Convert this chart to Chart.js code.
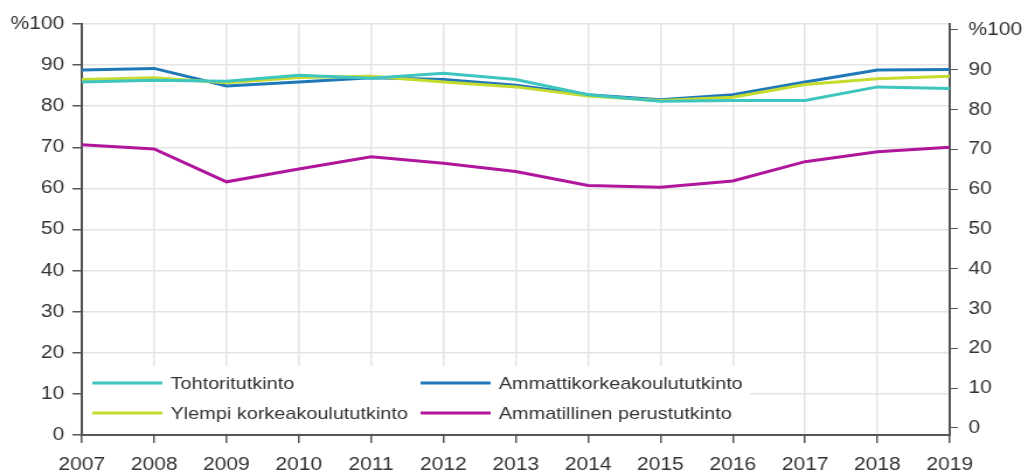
<!DOCTYPE html>
<html>
<head>
<meta charset="utf-8">
<script src="https://cdn.jsdelivr.net/npm/chart.js@4/dist/chart.umd.min.js"></script>
<style>
  body { margin: 0; background: #fff; }
</style>
</head>
<body>
<!-- chart is drawn a bit narrower and stretched, like the original picture -->
<canvas id="chart" width="880" height="473" style="display:block;width:1028px;height:473px"></canvas>
<script>
const years = ['2007', '2008', '2009', '2010', '2011', '2012', '2013', '2014', '2015', '2016', '2017', '2018', '2019'];
const tohtori = [85.9, 86.3, 86.1, 87.5, 86.8, 88.0, 86.5, 82.8, 81.2, 81.4, 81.4, 84.7, 84.3];
const ylempi = [86.5, 86.9, 85.7, 87.0, 87.3, 85.9, 84.7, 82.5, 81.4, 82.2, 85.3, 86.7, 87.3];
const amk = [88.8, 89.2, 84.9, 85.9, 86.9, 86.5, 85.1, 82.8, 81.6, 82.8, 85.9, 88.8, 88.9];
const ammatillinen = [70.6, 69.6, 61.6, 64.7, 67.7, 66.1, 64.1, 60.7, 60.3, 61.8, 66.5, 68.9, 70.0];
const seriesNames = ['Tohtoritutkinto', 'Ylempi korkeakoulututkinto', 'Ammattikorkeakoulututkinto', 'Ammatillinen perustutkinto'];

const textColor = '#333';
const axisColor = '#555';
const gridColor = '#e4e4e4';
const font = { family: "'Liberation Sans', Arial, sans-serif", size: 18 };

function tickLabel(v) {
    return v === 100 ? '%100' : v;
}

// legend drawn inside the plot, two columns, white box behind it
const legendInside = {
    id: 'legendInside',
    afterDraw(chart) {
        const ctx = chart.ctx;
        ctx.save();
        ctx.fillStyle = '#fff';
        ctx.fillRect(71, 366, 571, 67);
        const cols = [[79, 139, 146], [360, 420, 427]];
        const rows = [383, 413];
        ctx.font = "17px 'Liberation Sans', Arial, sans-serif";
        ctx.textBaseline = 'middle';
        chart.data.datasets.forEach((ds, i) => {
            const c = cols[Math.floor(i / 2)];
            const y = rows[i % 2];
            ctx.strokeStyle = ds.borderColor;
            ctx.lineWidth = 3;
            ctx.beginPath();
            ctx.moveTo(c[0], y);
            ctx.lineTo(c[1], y);
            ctx.stroke();
            ctx.fillStyle = textColor;
            ctx.fillText(ds.label, c[2], y + 1);
        });
        ctx.restore();
    }
};

const ctx = document.getElementById('chart');

new Chart(ctx, {
    type: 'line',
    data: {
        labels: years,
        datasets: [
            { label: seriesNames[0], data: tohtori, borderColor: '#3ec5bf' },
            { label: seriesNames[1], data: ylempi, borderColor: '#c6db2f' },
            { label: seriesNames[2], data: amk, borderColor: '#1f78b8' },
            { label: seriesNames[3], data: ammatillinen, borderColor: '#b0169c' }
        ]
    },
    options: {
        responsive: false,
        animation: false,
        devicePixelRatio: 1,
        layout: { padding: { top: 24, left: 0, right: 0, bottom: 0 } },
        elements: {
            line: { borderWidth: 3, tension: 0, fill: false },
            point: { radius: 0, hoverRadius: 0 }
        },
        plugins: {
            legend: { display: false },
            tooltip: { enabled: false }
        },
        scales: {
            x: {
                offset: false,
                grid: { color: gridColor, lineWidth: 1.5, tickColor: axisColor, tickLength: 8 },
                border: { color: axisColor, width: 2 },
                ticks: { color: textColor, font: font, padding: 11, maxRotation: 0, autoSkip: false },
                afterFit(scale) { scale.height = 38; }
            },
            y: {
                position: 'left',
                min: 0,
                max: 100,
                grid: { color: gridColor, lineWidth: 1.5, tickColor: axisColor, tickLength: 8 },
                border: { color: axisColor, width: 2 },
                ticks: { stepSize: 10, color: textColor, font: font, padding: 7, callback: tickLabel },
                afterFit(scale) { scale.width = 70; }
            },
            y2: {
                position: 'right',
                min: -1.76,
                max: 101.5,
                grid: { drawOnChartArea: false, tickColor: axisColor, tickLength: 7 },
                border: { color: axisColor, width: 2 },
                ticks: { color: textColor, font: font, padding: 9, callback: tickLabel },
                afterBuildTicks(scale) {
                    const t = [];
                    for (let v = 0; v <= 100; v += 10) t.push({ value: v });
                    scale.ticks = t;
                },
                afterFit(scale) { scale.width = 67; }
            }
        }
    },
    plugins: [legendInside]
});
</script>
</body>
</html>
